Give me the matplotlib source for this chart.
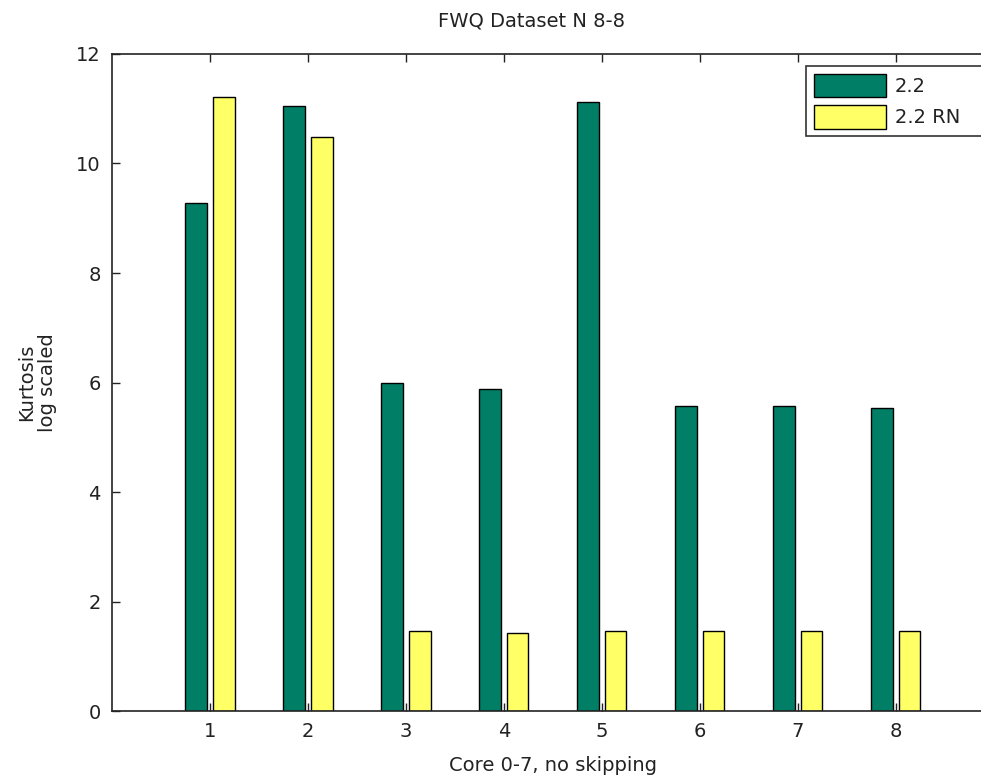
import numpy as np
import matplotlib
matplotlib.use("Agg")
import matplotlib.pyplot as plt

plt.rcParams['font.family'] = ['DejaVu Sans']

cores = [1, 2, 3, 4, 5, 6, 7, 8]
kurt_22 = [9.27, 11.05, 5.99, 5.88, 11.12, 5.57, 5.57, 5.54]
kurt_22rn = [11.22, 10.49, 1.46, 1.42, 1.46, 1.46, 1.46, 1.46]
series_names = ['2.2', '2.2 RN']

green = '#007f66'
yellow = '#ffff66'
ink = '#222222'
fs = 14

fig = plt.figure(figsize=(9.81, 7.78), dpi=100)
ax = fig.add_axes([0.1142, 0.0861, 0.899, 0.8445])

x = np.array(cores)
w = 0.22
ax.bar(x - 0.145, kurt_22, width=w, color=green, edgecolor='black', linewidth=1.0, label=series_names[0])
ax.bar(x + 0.14, kurt_22rn, width=w, color=yellow, edgecolor='black', linewidth=1.0, label=series_names[1])

ax.set_xlim(0, 9)
ax.set_ylim(0, 12)
ax.set_xticks(cores)
ax.set_yticks(range(0, 13, 2))
ax.tick_params(direction='in', top=True, right=True, length=6, width=1, labelsize=fs, colors=ink, pad=8)
for s in ax.spines.values():
    s.set_linewidth(1.2)
    s.set_color(ink)

ax.set_xlabel('Core 0-7, no skipping', fontsize=fs, color=ink, labelpad=11)
ax.set_ylabel('Kurtosis\nlog scaled', fontsize=fs, color=ink, labelpad=14, linespacing=1.1)
fig.text(531 / 981, 1 - 21 / 778, 'FWQ Dataset N 8-8', ha='center', va='center', fontsize=fs, color=ink)

leg = ax.legend(loc='upper left', bbox_to_anchor=(0.787, 0.5, 0.25, 0.482), mode='expand', fontsize=fs,
                frameon=True, fancybox=False, handlelength=3.7, handleheight=1.45, borderpad=0.4,
                labelspacing=0.45, handletextpad=0.45, borderaxespad=0.0)
leg.get_frame().set_edgecolor('black')
leg.get_frame().set_linewidth(1.2)
for t in leg.get_texts():
    t.set_color(ink)

fig.savefig('out.png', dpi=100)
